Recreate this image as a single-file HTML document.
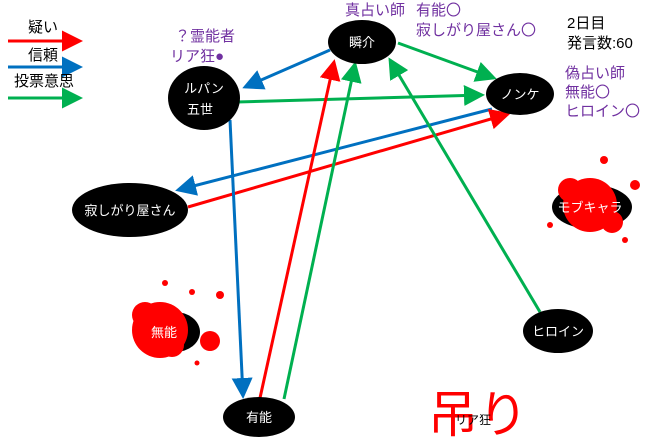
<!DOCTYPE html>
<html><head><meta charset="utf-8"><style>
body{margin:0;background:#fff}
svg{display:block;font-family:"Liberation Sans","Noto Sans CJK JP",sans-serif}
</style></head><body>
<svg width="660" height="445" viewBox="0 0 660 445" xmlns="http://www.w3.org/2000/svg">
<defs>
<marker id="r" markerWidth="7" markerHeight="7" refX="6" refY="3.5" orient="auto" markerUnits="strokeWidth"><path d="M0,0L7,3.5L0,7z" fill="#f00"/></marker>
<marker id="b" markerWidth="7" markerHeight="7" refX="6" refY="3.5" orient="auto" markerUnits="strokeWidth"><path d="M0,0L7,3.5L0,7z" fill="#0070c0"/></marker>
<marker id="g" markerWidth="7" markerHeight="7" refX="6" refY="3.5" orient="auto" markerUnits="strokeWidth"><path d="M0,0L7,3.5L0,7z" fill="#00b050"/></marker>
</defs>
<!-- legend -->
<text x="28" y="32" font-size="15">疑い</text>
<line x1="8" y1="41" x2="80" y2="41" stroke="#f00" stroke-width="3" marker-end="url(#r)"/>
<text x="28" y="60" font-size="15">信頼</text>
<line x1="8" y1="67" x2="80" y2="67" stroke="#0070c0" stroke-width="3" marker-end="url(#b)"/>
<text x="14" y="86" font-size="15">投票意思</text>
<line x1="8" y1="98" x2="80" y2="98" stroke="#00b050" stroke-width="3" marker-end="url(#g)"/>

<!-- purple labels -->
<g fill="#7030a0" font-size="15">
<text x="175" y="41">？霊能者</text>
<text x="170" y="61">リア狂●</text>
<text x="345" y="15">真占い師</text>
<text x="416" y="15">有能〇</text>
<text x="416" y="35">寂しがり屋さん〇</text>
<text x="565" y="78">偽占い師</text>
<text x="565" y="97">無能〇</text>
<text x="565" y="116">ヒロイン〇</text>
</g>
<text x="567" y="28" font-size="15">2日目</text>
<text x="567" y="48" font-size="15">発言数:60</text>

<!-- connectors -->
<g stroke-width="3" fill="none">
<line x1="330" y1="50" x2="245" y2="87" stroke="#0070c0" marker-end="url(#b)"/>
<line x1="237" y1="102" x2="482" y2="95" stroke="#00b050" marker-end="url(#g)"/>
<line x1="398" y1="43" x2="494" y2="78" stroke="#00b050" marker-end="url(#g)"/>
<line x1="492" y1="109" x2="178" y2="190" stroke="#0070c0" marker-end="url(#b)"/>
<line x1="188" y1="207" x2="508" y2="114" stroke="#f00" marker-end="url(#r)"/>
<line x1="230" y1="120" x2="243" y2="396" stroke="#0070c0" marker-end="url(#b)"/>
<line x1="260" y1="398" x2="334" y2="62" stroke="#f00" marker-end="url(#r)"/>
<line x1="284" y1="399" x2="355" y2="64" stroke="#00b050" marker-end="url(#g)"/>
<line x1="540" y1="312" x2="390" y2="60" stroke="#00b050" marker-end="url(#g)"/>
</g>

<!-- nodes -->
<g fill="#000">
<ellipse cx="362" cy="42" rx="34" ry="22"/>
<ellipse cx="204" cy="98" rx="36" ry="32"/>
<ellipse cx="520" cy="94" rx="34" ry="21"/>
<ellipse cx="130" cy="210" rx="58" ry="27"/>
<ellipse cx="592" cy="207" rx="40" ry="22"/>
<ellipse cx="175" cy="332" rx="25" ry="20"/>
<ellipse cx="558" cy="331" rx="35" ry="22"/>
<ellipse cx="259" cy="417" rx="36" ry="20"/>
</g>
<!-- blood splats -->
<g fill="#f00">
<circle cx="590" cy="205" r="27"/><circle cx="570" cy="190" r="12"/><circle cx="612" cy="222" r="11"/>
<circle cx="604" cy="160" r="4"/><circle cx="635" cy="185" r="5"/><circle cx="550" cy="225" r="3"/><circle cx="625" cy="240" r="3"/>
<circle cx="160" cy="330" r="28"/><circle cx="145" cy="315" r="13"/><circle cx="172" cy="345" r="12"/>
<circle cx="210" cy="341" r="10"/><circle cx="220" cy="295" r="4"/><circle cx="192" cy="292" r="3"/><circle cx="197" cy="363" r="2.5"/><circle cx="165" cy="283" r="3"/>
</g>
<g fill="#fff" font-size="13" text-anchor="middle">
<text x="362" y="47">瞬介</text>
<text x="204" y="93">ルパン</text>
<text x="200" y="114">五世</text>
<text x="520" y="99">ノンケ</text>
<text x="130" y="215">寂しがり屋さん</text>
<text x="590" y="212">モブキャラ</text>
<text x="164" y="337">無能</text>
<text x="558" y="336">ヒロイン</text>
<text x="259" y="422">有能</text>
</g>
<text x="428" y="432" font-size="50" fill="#f00">吊り</text>
<text x="455" y="424" font-size="12">リア狂</text>
</svg>
</body></html>
